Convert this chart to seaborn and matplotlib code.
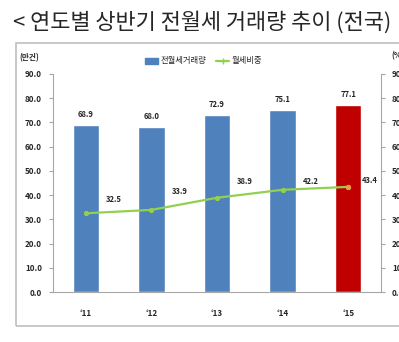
import matplotlib
matplotlib.use("Agg")
import matplotlib.pyplot as plt
from matplotlib.patches import Rectangle, Patch
from matplotlib.lines import Line2D
from matplotlib.ticker import FormatStrFormatter, MultipleLocator
import numpy as np
import pandas as pd
import seaborn as sns

# Data
years = ["\u201811", "\u201812", "\u201813", "\u201814", "\u201815"]
volume = [68.9, 68.0, 72.9, 75.1, 77.1]        # 전월세 거래량 (만건)
monthly_share = [32.5, 33.9, 38.9, 42.2, 43.4]  # 월세 비중 (%)

title_text = "< 연도별 상반기 전월세 거래량 추이 (전국)"
left_unit = "(만건)"
right_unit = "(%)"
legend_labels = ["전월세거래량", "월세비중"]

# Styling
W, H = 399, 342
BLUE = "#4F81BD"
RED = "#C00000"
GREEN = "#92D050"
ORANGE = "#F79646"
GRAY = "#A6A6A6"
TEXT = "#262626"
bar_colors = [BLUE, BLUE, BLUE, BLUE, RED]
share_label_offsets = [(28, 14), (28, 18), (28, 16), (28, 8), (22, 6)]

sns.set_theme(style="white")
plt.rcParams["font.family"] = ["Noto Sans CJK KR", "DejaVu Sans"]

fig = plt.figure(figsize=(W / 100, H / 100), dpi=100)
fig.patch.set_facecolor("white")


def fx(x):
    return x / W


def fy(y):
    return 1 - y / H


# Outer frame of the chart area
fig.patches.append(Rectangle((fx(16), fy(326)), fx(500), fy(43) - fy(326),
                             transform=fig.transFigure, fill=False,
                             edgecolor="#BFBFBF", linewidth=1.2))

ax = fig.add_axes([fx(53), fy(292), fx(381) - fx(53), fy(74) - fy(292)])

df = pd.DataFrame({"year": years, "volume": volume, "share": monthly_share})
sns.barplot(data=df, x="year", y="volume", hue="year", palette=bar_colors,
            width=0.4, legend=False, ax=ax, saturation=1)

ax.set_ylim(0, 90)
ax.set_xlim(-0.5, len(years) - 0.5)
ax.yaxis.set_major_locator(MultipleLocator(10))
ax.yaxis.set_major_formatter(FormatStrFormatter("%.1f"))
ax.set_xlabel("")
ax.set_ylabel("")

for i, v in enumerate(volume):
    ax.annotate(f"{v:.1f}", (i, v), xytext=(0, 6), textcoords="offset pixels",
                ha="center", va="bottom", fontsize=5.5, fontweight="bold",
                color=TEXT)

ax2 = ax.twinx()
xpos = np.arange(len(years))
sns.lineplot(x=xpos, y=monthly_share, ax=ax2, color=GREEN, linewidth=1.6,
             marker="o", markersize=3, markeredgecolor=GREEN,
             markerfacecolor=GREEN)
sns.scatterplot(x=xpos[-1:], y=monthly_share[-1:], ax=ax2, color=ORANGE,
                s=12, edgecolor=ORANGE, zorder=5)
ax2.set_ylim(0, 90)
ax2.yaxis.set_major_locator(MultipleLocator(10))
ax2.yaxis.set_major_formatter(FormatStrFormatter("%.1f"))

for i, v in enumerate(monthly_share):
    dx, dy = share_label_offsets[i]
    ax2.annotate(f"{v:.1f}", (i, v), xytext=(dx, dy), textcoords="offset pixels",
                 ha="center", va="center", fontsize=5.5, fontweight="bold",
                 color=TEXT)

for a in (ax, ax2):
    for s in a.spines.values():
        s.set_visible(False)
    a.tick_params(axis="y", length=3, width=0.8, color=GRAY, labelsize=5.8,
                  labelcolor=TEXT, pad=5)
    for lab in a.get_yticklabels():
        lab.set_fontweight("bold")

ax.spines["left"].set_visible(True)
ax.spines["left"].set_color(GRAY)
ax.spines["bottom"].set_visible(True)
ax.spines["bottom"].set_color(GRAY)
ax2.spines["right"].set_visible(True)
ax2.spines["right"].set_color(GRAY)
ax.spines["left"].set_linewidth(0.8)
ax.spines["bottom"].set_linewidth(0.8)
ax2.spines["right"].set_linewidth(0.8)

ax.tick_params(axis="x", length=0, labelsize=5.8, labelcolor=TEXT, pad=12)
for lab in ax.get_xticklabels():
    lab.set_fontweight("bold")
ax.set_xticks(xpos + 0.5, minor=True)
ax.tick_params(axis="x", which="minor", length=3, color=GRAY, width=0.8,
               direction="out")
ax.grid(False)
ax2.grid(False)

# Title and units
fig.text(fx(13), fy(22), title_text, fontsize=15.8, color=TEXT,
         ha="left", va="center")
fig.text(fx(19), fy(58), left_unit, fontsize=5.5, fontweight="bold",
         color=TEXT, ha="left", va="center")
fig.text(fx(391), fy(56), right_unit, fontsize=5.5, fontweight="bold",
         color=TEXT, ha="left", va="center")

# Legend
handles = [Patch(facecolor=BLUE, edgecolor=BLUE),
           Line2D([0], [0], color=GREEN, linewidth=1.6, marker="+",
                  markersize=5, markeredgecolor=GREEN)]
fig.legend(handles, legend_labels, loc="center left",
           bbox_to_anchor=(fx(137), fy(61)), ncol=2, frameon=False,
           fontsize=6, handlelength=1.6, handleheight=0.7, handletextpad=0.3,
           columnspacing=1.2, labelcolor=TEXT)

fig.savefig("out.png", dpi=100, facecolor="white")
